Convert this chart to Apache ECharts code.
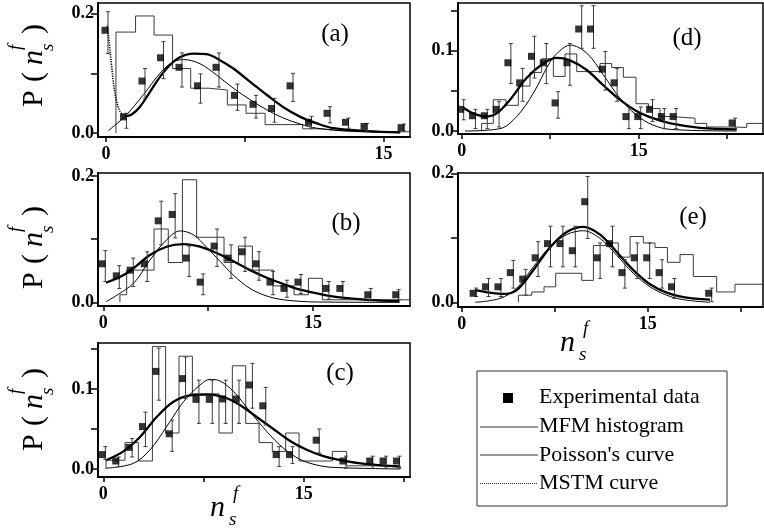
<!DOCTYPE html>
<html><head><meta charset="utf-8">
<script src="https://cdn.jsdelivr.net/npm/echarts@6/dist/echarts.min.js"></script>
<style>html,body{margin:0;padding:0;background:#fff}#c{width:764px;height:530px}</style>
</head><body><div id="c"></div><script>
// ---------- shared tick values ----------
const xTickValues = [0, 7.5, 15, 22.5];
const xTickLabels = [0, 15];
const panelNames = ['(a)', '(b)', '(c)', '(d)', '(e)'];
const legendNames = ['Experimental data', 'MFM histogram', "Poisson's curve", 'MSTM curve'];

// ---------- panel (a) ----------
const aPtX = [0,1,2,3,4,5,6,7,8,9,10,11,12,13,14,16];
const aPtY = [0.172,0.027,0.087,0.126,0.110,0.079,0.110,0.063,0.048,0.041,0.079,0.018,0.033,0.018,0.011,0.009];
const aErrLo = [0.133,0.008,0.057,0.091,0.077,0.050,0.077,0.038,0.025,0.018,0.053,0.008,0.017,0.008,0.003,0.003];
const aErrHi = [0.203,0.033,0.108,0.153,0.134,0.099,0.134,0.082,0.063,0.058,0.100,0.028,0.044,0.025,0.016,0.015];
const aHistEdges = [0.54,1.6,2.6,3.6,4.58,5.55,6.56,7.57,8.6,9.62,10.63,11.66,12.65,13.64,14.6,16.43];
const aHistH = [0.169,0.196,0.164,0.108,0.075,0.072,0.047,0.033,0.014,0.014,0.007,0.004,0.003,0.002,0.002];
const aPoisX = [0.13,1.03,2.02,3.0,3.64,4.18,5.08,5.98,6.88,7.78,8.68,9.59,10.5,11.4,13.2,15.9];
const aPoisY = [0.004,0.028,0.064,0.103,0.119,0.123,0.116,0.097,0.075,0.056,0.039,0.025,0.015,0.008,0.003,0.0005];
const aMstmDotX = [0.07,0.18,0.31,0.43,0.58,0.76,1.03];
const aMstmDotY = [0.18,0.15,0.111,0.078,0.053,0.036,0.028];
const aMstmX = [1.03,1.39,1.84,2.38,2.92,3.46,4.0,4.72,5.44,6.16,6.88,7.78,8.68,9.59,10.5,11.4,12.3,14.1,15.9];
const aMstmY = [0.028,0.031,0.044,0.069,0.094,0.114,0.127,0.133,0.132,0.122,0.108,0.086,0.064,0.043,0.027,0.016,0.008,0.003,0.001];

// ---------- panel (b) ----------
const bPtX = [0,1,2,3,4,5,6,7,8,9,10,11,12,13,14,16,17,19,21];
const bPtY = [0.061,0.042,0.051,0.061,0.129,0.139,0.070,0.032,0.089,0.070,0.080,0.061,0.032,0.022,0.032,0.022,0.022,0.012,0.012];
const bErrLo = [0.033,0.022,0.025,0.033,0.091,0.102,0.041,0.012,0.057,0.038,0.049,0.035,0.012,0.008,0.014,0.005,0.005,0.004,0.004];
const bErrHi = [0.082,0.058,0.070,0.080,0.160,0.172,0.089,0.045,0.116,0.091,0.103,0.080,0.049,0.035,0.044,0.033,0.033,0.022,0.020];
const bHistEdges = [1.19,1.67,3.63,4.65,5.66,6.68,8.64,9.67,10.67,12.17,13.65,14.68,15.68,21.95];
const bHistH = [0.012,0.051,0.116,0.063,0.194,0.103,0.063,0.089,0.051,0.026,0.012,0.038,0.004];
const bPoisX = [0.19,2.15,3.34,4.53,5.49,6.44,7.4,8.35,9.31,10.5,11.7,12.9,15.3,21.2];
const bPoisY = [0.001,0.030,0.067,0.099,0.113,0.107,0.087,0.065,0.043,0.022,0.010,0.004,0.0005,0];
const bMstmX = [0.19,1.67,3.34,4.53,5.73,6.92,8.11,9.31,10.5,11.7,12.9,14.1,16.5,18.9,21.2];
const bMstmY = [0.031,0.046,0.075,0.088,0.092,0.088,0.078,0.065,0.051,0.039,0.029,0.020,0.009,0.004,0.002];

// ---------- panel (c) ----------
const cPtX = [0,1,2,3,4,5,6,7,8,9,10,11,12,13,14,16,18,20,21,22];
const cPtY = [0.018,0.010,0.027,0.053,0.122,0.044,0.113,0.087,0.087,0.0875,0.0875,0.105,0.079,0.018,0.018,0.036,0.010,0.010,0.010,0.010];
const cErrLo = [0.012,0.003,0.015,0.028,0.086,0.022,0.088,0.057,0.057,0.057,0.057,0.076,0.055,0.003,0.007,0.020,0.001,0.001,0.001,0.001];
const cErrHi = [0.028,0.015,0.038,0.071,0.151,0.061,0.140,0.111,0.111,0.111,0.111,0.132,0.102,0.028,0.028,0.050,0.016,0.016,0.016,0.016];
const cHistEdges = [0.2,1.62,2.62,3.67,4.66,5.66,6.66,8.65,9.65,10.65,11.65,12.64,13.64,14.64,17.13,18.2,22.2];
const cHistH = [0.011,0.033,0.010,0.153,0.045,0.141,0.094,0.045,0.129,0.057,0.033,0.022,0.045,0.010,0.022,0.004];
const cPoisX = [0.2,2.24,3.49,4.74,5.99,7.23,7.98,8.73,9.73,10.97,12.22,13.47,14.71,15.96,17.2,22.2];
const cPoisY = [0.001,0.007,0.024,0.053,0.084,0.105,0.112,0.110,0.097,0.072,0.047,0.026,0.012,0.005,0.002,0];
const cMstmX = [0.2,1.5,2.74,3.99,5.24,6.48,7.73,8.98,10.22,11.47,12.72,13.97,15.21,16.46,17.71,19.7,22.2];
const cMstmY = [0.011,0.022,0.040,0.065,0.084,0.092,0.093,0.090,0.080,0.065,0.050,0.035,0.024,0.016,0.011,0.006,0.003];

// ---------- panel (d) ----------
const dPtX = [0,1,2,3,4,5,6,7,8,9,10,11,12,13,14,15,16,17,18,23];
const dPtY = [0.027,0.019,0.019,0.027,0.085,0.060,0.093,0.085,0.035,0.085,0.127,0.127,0.077,0.060,0.018,0.018,0.027,0.018,0.018,0.010];
const dErrLo = [0.014,0.003,0.003,0.005,0.059,0.037,0.066,0.059,0.016,0.057,0.103,0.103,0.051,0.037,0.003,0.003,0.012,0.003,0.003,0.003];
const dErrHi = [0.039,0.027,0.027,0.037,0.109,0.078,0.118,0.109,0.049,0.109,0.156,0.156,0.099,0.078,0.030,0.030,0.039,0.028,0.028,0.016];
const dHistEdges = [1.69,2.68,3.76,4.8,5.79,6.78,7.77,8.76,9.75,11.72,12.71,13.7,14.77,15.82,16.81,17.8,19.77,20.76,23.0,24.15,25.53];
const dHistH = [0.0095,0.039,0.032,0.056,0.073,0.090,0.068,0.096,0.074,0.084,0.079,0.067,0.034,0.028,0.018,0.016,0.0095,0.005,0.0045,0.0095];
const dPoisX = [0.28,3.25,4.66,6.07,7.49,8.33,9.18,10.6,12.0,13.4,14.8,16.2,17.7,23.3];
const dPoisY = [0,0.003,0.018,0.047,0.086,0.100,0.107,0.097,0.070,0.041,0.020,0.0075,0.002,0];
const dMstmX = [0.14,0.99,1.98,2.97,4.1,5.5,6.92,8.05,9.18,10.6,12.0,13.4,14.8,16.2,17.7,20.2,23.3];
const dMstmY = [0.029,0.022,0.018,0.022,0.039,0.066,0.084,0.091,0.088,0.076,0.057,0.039,0.025,0.016,0.0095,0.004,0.002];

// ---------- panel (e) ----------
const ePtX = [1,2,3,4,5,6,7,8,9,10,11,12,13,14,15,16,17,20];
const ePtY = [0.014,0.024,0.024,0.046,0.036,0.069,0.091,0.091,0.080,0.156,0.069,0.091,0.046,0.069,0.069,0.046,0.024,0.014];
const eErrLo = [0.009,0.009,0.009,0.022,0.011,0.040,0.055,0.055,0.055,0.099,0.037,0.055,0.022,0.037,0.037,0.022,0.006,0.001];
const eErrHi = [0.022,0.037,0.037,0.065,0.051,0.094,0.118,0.118,0.118,0.195,0.092,0.118,0.066,0.092,0.092,0.066,0.037,0.022];
const eHistEdges = [4.57,5.65,6.64,7.58,9.68,10.62,11.61,12.63,13.58,14.65,15.59,16.59,17.61,18.68,20.56,22.04,24.3];
const eHistH = [0.011,0.016,0.024,0.045,0.034,0.088,0.092,0.070,0.102,0.092,0.085,0.062,0.074,0.040,0.016,0.028];
const ePoisX = [1.08,3.09,4.44,5.78,7.12,8.47,9.81,11.16,12.5,13.84,15.19,16.53,17.88,20.03];
const ePoisY = [0,0.006,0.022,0.055,0.086,0.105,0.111,0.099,0.073,0.045,0.024,0.011,0.004,0];
const eMstmX = [1.08,2.28,3.36,4.44,5.78,7.12,8.47,9.81,11.16,12.5,13.84,15.19,16.53,17.88,20.03];
const eMstmY = [0.019,0.015,0.013,0.019,0.050,0.085,0.109,0.117,0.105,0.078,0.050,0.028,0.015,0.008,0.004];

// ---------- layout ----------
const FONT = 'Liberation Serif';
const panels = [
  {grid:{left:98,top:3,width:312,height:134},  xr:[-0.43,16.43], yr:[-0.0067,0.2177], yLab:[0,0.2], yTick:[0,0.1,0.2],
   pt:[aPtX,aPtY,aErrLo,aErrHi], hist:[aHistEdges,aHistH], pois:[aPoisX,aPoisY], mstm:[aMstmX,aMstmY], dot:[aMstmDotX,aMstmDotY], lab:[335,34]},
  {grid:{left:98,top:173,width:312,height:133}, xr:[-0.38,21.95], yr:[-0.0058,0.2047], yLab:[0,0.2], yTick:[0,0.1,0.2],
   pt:[bPtX,bPtY,bErrLo,bErrHi], hist:[bHistEdges,bHistH], pois:[bPoisX,bPoisY], mstm:[bMstmX,bMstmY], lab:[346,223]},
  {grid:{left:98,top:343,width:312,height:134}, xr:[-0.4,22.94], yr:[-0.01,0.1575], yLab:[0,0.1], yTick:[0,0.05,0.1,0.15],
   pt:[cPtX,cPtY,cErrLo,cErrHi], hist:[cHistEdges,cHistH], pois:[cPoisX,cPoisY], mstm:[cMstmX,cMstmY], lab:[340,373]},
  {grid:{left:458,top:3,width:305,height:131}, xr:[-0.31,25.53], yr:[-0.0037,0.1594], yLab:[0,0.1], yTick:[0,0.05,0.1,0.15],
   pt:[dPtX,dPtY,dErrLo,dErrHi], hist:[dHistEdges,dHistH], pois:[dPoisX,dPoisY], mstm:[dMstmX,dMstmY], lab:[687,38]},
  {grid:{left:458,top:173,width:305,height:134}, xr:[-0.3,24.3], yr:[-0.0073,0.2005], yLab:[0,0.2], yTick:[0,0.1,0.2],
   pt:[ePtX,ePtY,eErrLo,eErrHi], hist:[eHistEdges,eHistH], pois:[ePoisX,ePoisY], mstm:[eMstmX,eMstmY], lab:[693,217]}
];

function zip(xs, ys) { return xs.map((x, k) => [x, ys[k]]); }
function steps(edges, h) {
  const d = [[edges[0], 0]];
  for (let k = 0; k < h.length; k++) { d.push([edges[k], h[k]]); d.push([edges[k + 1], h[k]]); }
  d.push([edges[edges.length - 1], 0]);
  return d;
}
function inRange(vals, r) { return vals.filter(v => v >= r[0] - 1e-9 && v <= r[1] + 1e-9); }

function errRender(params, api) {
  const x = api.value(0), lo = api.value(1), hi = api.value(2);
  const p1 = api.coord([x, hi]), p2 = api.coord([x, lo]);
  const cx = p1[0] + 2;
  const st = {stroke: '#3c3c3c', lineWidth: 1};
  return {type: 'group', children: [
    {type: 'line', shape: {x1: cx, y1: p1[1], x2: cx, y2: p2[1]}, style: st},
    {type: 'line', shape: {x1: cx - 2, y1: p1[1], x2: cx + 2, y2: p1[1]}, style: st},
    {type: 'line', shape: {x1: cx - 2, y1: p2[1], x2: cx + 2, y2: p2[1]}, style: st}
  ]};
}

const grids = [], xAxes = [], yAxes = [], series = [];
panels.forEach((p, i) => {
  grids.push(Object.assign({show: true, borderColor: '#000', borderWidth: 1.5, backgroundColor: 'transparent', containLabel: false}, p.grid));
  xAxes.push({gridIndex: i, type: 'value', min: p.xr[0], max: p.xr[1],
    axisLine: {show: true, onZero: false, lineStyle: {color: '#000', width: 2}},
    axisTick: {show: true, customValues: inRange(xTickValues, p.xr), length: 5, lineStyle: {color: '#000', width: 1.5}},
    axisLabel: {show: true, customValues: xTickLabels, fontFamily: FONT, fontWeight: 'bold', fontSize: 18, color: '#000', margin: 8},
    splitLine: {show: false}});
  yAxes.push({gridIndex: i, type: 'value', min: p.yr[0], max: p.yr[1],
    axisLine: {show: true, onZero: false, lineStyle: {color: '#000', width: 2}},
    axisTick: {show: true, customValues: inRange(p.yTick, p.yr), length: 7, lineStyle: {color: '#000', width: 1.5}},
    axisLabel: {show: true, customValues: p.yLab, formatter: v => v.toFixed(1), fontFamily: FONT, fontWeight: 'bold', fontSize: 18, color: '#000', margin: 4},
    splitLine: {show: false}});
  series.push({type: 'line', xAxisIndex: i, yAxisIndex: i, data: steps(p.hist[0], p.hist[1]), symbol: 'none', silent: true, clip: true,
    lineStyle: {color: '#3a3a3a', width: 1}, z: 2});
  series.push({type: 'line', xAxisIndex: i, yAxisIndex: i, data: zip(p.pois[0], p.pois[1]), smooth: 0.35, symbol: 'none', clip: true,
    lineStyle: {color: '#000', width: 1}, z: 3});
  series.push({type: 'line', xAxisIndex: i, yAxisIndex: i, data: zip(p.mstm[0], p.mstm[1]), smooth: 0.35, symbol: 'none', clip: true,
    lineStyle: {color: '#000', width: 2.3}, z: 4});
  if (p.dot) {
    series.push({type: 'line', xAxisIndex: i, yAxisIndex: i, data: zip(p.dot[0], p.dot[1]), smooth: 0.35, symbol: 'none', clip: true,
      lineStyle: {color: '#000', width: 1.6, type: [1.2, 1.2]}, z: 4});
  }
  series.push({type: 'custom', xAxisIndex: i, yAxisIndex: i, renderItem: errRender, clip: true,
    data: p.pt[0].map((x, k) => [x, p.pt[2][k], p.pt[3][k]]), encode: {x: 0, y: [1, 2]}, z: 5});
  series.push({type: 'scatter', xAxisIndex: i, yAxisIndex: i, data: zip(p.pt[0], p.pt[1]), symbol: 'rect', symbolSize: 7,
    symbolOffset: [-1, 0], itemStyle: {color: '#000'}, z: 6});
});

// ---------- text decorations ----------
function tx(x, y, text, size, extra) {
  return {type: 'text', x: x, y: y, style: Object.assign({text: text, fontFamily: FONT, fontSize: size, fill: '#000', verticalAlign: 'middle', align: 'left'}, extra || {})};
}
function yTitle(cx, cy) {
  return {type: 'group', x: cx, y: cy, rotation: Math.PI / 2, children: [
    tx(-42, 1, 'P', 30),
    tx(-17, 1, '(', 30),
    tx(0, 1, 'n', 30, {fontStyle: 'italic'}),
    tx(15, -17, 'f', 19, {fontStyle: 'italic'}),
    tx(14, 15, 's', 19, {fontStyle: 'italic'}),
    tx(31, 1, ')', 30)
  ]};
}
function xTitle(x, baseY) {
  return {type: 'group', x: x, y: baseY, children: [
    tx(0, -9, 'n', 30, {fontStyle: 'italic'}),
    tx(23, -23, 'f', 19, {fontStyle: 'italic'}),
    tx(19, 3, 's', 19, {fontStyle: 'italic'})
  ]};
}
const graphics = [];
panels.forEach((p, i) => graphics.push({type: 'text', x: p.lab[0], y: p.lab[1],
  style: {text: panelNames[i], fontFamily: FONT, fontSize: 25, fill: '#000', align: 'center', verticalAlign: 'middle'}}));
graphics.push(yTitle(33, 65), yTitle(33, 247), yTitle(33, 409));
graphics.push(xTitle(210, 517), xTitle(560, 352));
// legend
graphics.push({type: 'rect', shape: {x: 477, y: 371, width: 250, height: 135}, style: {fill: '#fff', stroke: '#333', lineWidth: 1}, z: 10});
graphics.push({type: 'rect', shape: {x: 503, y: 393, width: 10, height: 10}, style: {fill: '#000'}, z: 11});
graphics.push({type: 'line', shape: {x1: 480, y1: 427, x2: 538, y2: 427}, style: {stroke: '#333', lineWidth: 1}, z: 11});
graphics.push({type: 'line', shape: {x1: 480, y1: 455, x2: 538, y2: 455}, style: {stroke: '#333', lineWidth: 1}, z: 11});
graphics.push({type: 'line', shape: {x1: 480, y1: 483.5, x2: 538, y2: 483.5}, style: {stroke: '#333', lineWidth: 1, lineDash: [1, 1]}, z: 11});
[397, 426, 455, 483].forEach((y, k) => graphics.push(Object.assign(tx(539, y, legendNames[k], 22), {z: 11})));

const chart = echarts.init(document.getElementById('c'), null, {renderer: 'canvas'});
chart.setOption({animation: false, backgroundColor: '#fff', grid: grids, xAxis: xAxes, yAxis: yAxes, series: series, graphic: {elements: graphics}});
</script></body></html>
